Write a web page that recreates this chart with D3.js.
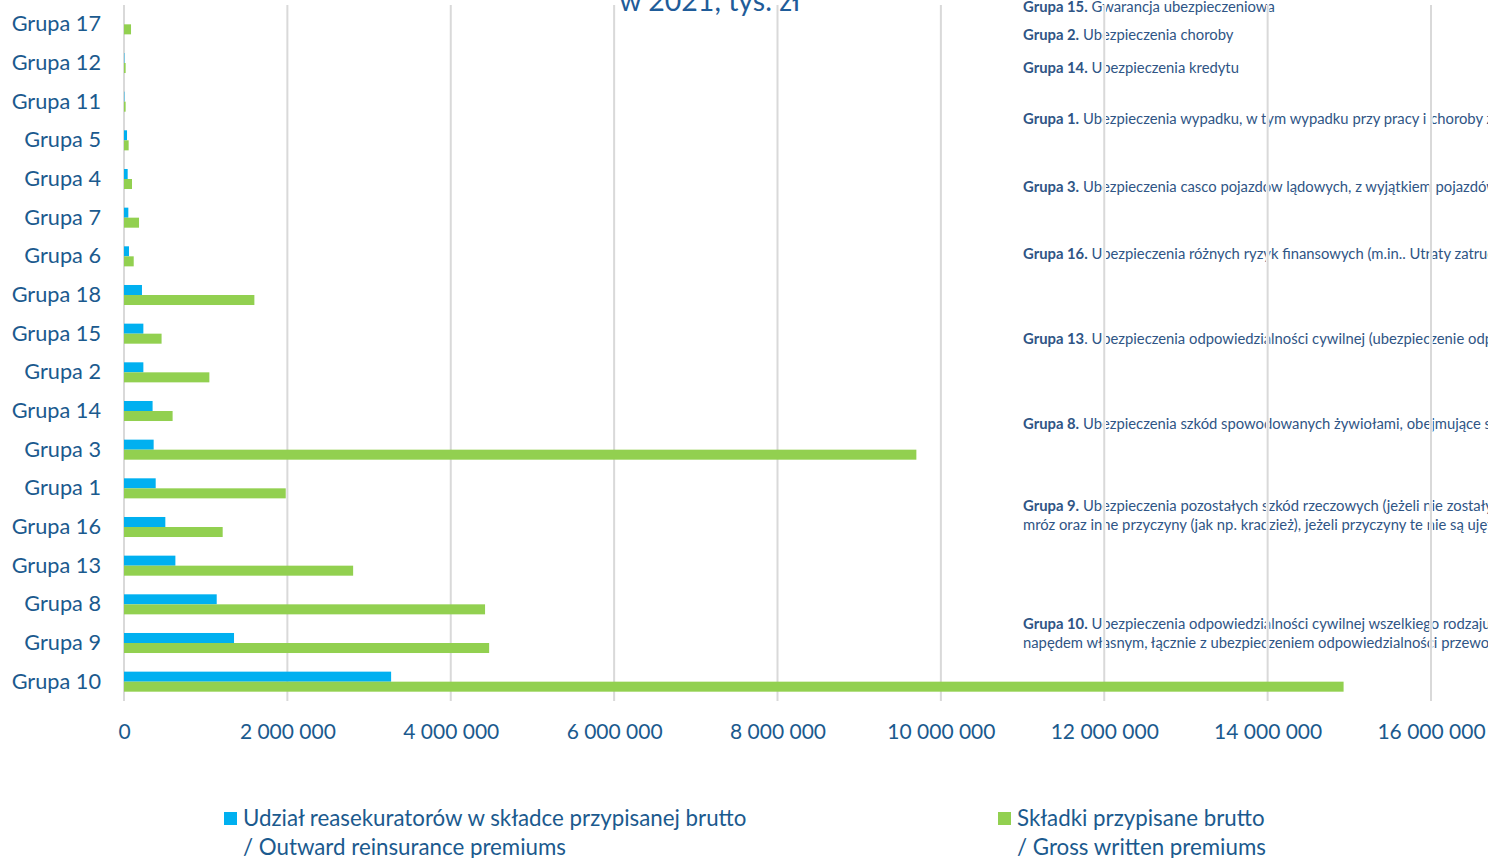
<!DOCTYPE html>
<html>
<head>
<meta charset="utf-8">
<script src="https://cdn.jsdelivr.net/npm/d3@7"></script>
<style>
    html, body { margin: 0; padding: 0; background: #fff; }
    svg { display: block; font-family: Lato, sans-serif; }
</style>
</head>
<body>
<div id="chart"></div>
<script>
// categories, top to bottom
const groups = ['Grupa 17', 'Grupa 12', 'Grupa 11', 'Grupa 5', 'Grupa 4', 'Grupa 7', 'Grupa 6', 'Grupa 18', 'Grupa 15',
    'Grupa 2', 'Grupa 14', 'Grupa 3', 'Grupa 1', 'Grupa 16', 'Grupa 13', 'Grupa 8', 'Grupa 9', 'Grupa 10'];

// thousand PLN
const outwardReinsurance = [0, 5000, 5000, 37000, 45000, 53000, 61000, 220000, 237000,
    237000, 350000, 363000, 388000, 506000, 629000, 1135000, 1347000, 3270000];
const grossWritten = [86000, 20000, 20000, 57000, 98000, 184000, 119000, 1596000, 460000,
    1045000, 595000, 9700000, 1980000, 1208000, 2805000, 4420000, 4470000, 14930000];

const xTicks = [0, 2000000, 4000000, 6000000, 8000000, 10000000, 12000000, 14000000, 16000000];

const seriesNames = [
    ['Udział reasekuratorów w składce przypisanej brutto', '/ Outward reinsurance premiums'],
    ['Składki przypisane brutto', '/ Gross written premiums']
];

const titleText = 'w 2021, tys. zł';

// notes: bold head, rest of line(s)
const notes = [
    ['Grupa 15.', ' Gwarancja ubezpieczeniowa'],
    ['Grupa 2.', ' Ubezpieczenia choroby'],
    ['Grupa 14.', ' Ubezpieczenia kredytu'],
    ['Grupa 1.', ' Ubezpieczenia wypadku, w tym wypadku przy pracy i choroby zawodowej'],
    ['Grupa 3.', ' Ubezpieczenia casco pojazdów lądowych, z wyjątkiem pojazdów szynowych'],
    ['Grupa 16.', ' Ubezpieczenia różnych ryzyk finansowych (m.in.. Utraty zatrudnienia, niewystarczającego dochodu)'],
    ['Grupa 13', '. Ubezpieczenia odpowiedzialności cywilnej (ubezpieczenie odpowiedzialności ogólnej)'],
    ['Grupa 8.', ' Ubezpieczenia szkód spowodowanych żywiołami, obejmujące szkody w mieniu'],
    ['Grupa 9.', ' Ubezpieczenia pozostałych szkód rzeczowych (jeżeli nie zostały ujęte w grupach 3-7), spowodowanych przez grad lub',
        'mróz oraz inne przyczyny (jak np. kradzież), jeżeli przyczyny te nie są ujęte w grupie 8'],
    ['Grupa 10.', ' Ubezpieczenia odpowiedzialności cywilnej wszelkiego rodzaju, wynikającej z posiadania i użytkowania pojazdów lądowych z',
        'napędem własnym, łącznie z ubezpieczeniem odpowiedzialności przewoźnika']
];
const noteBaselines = [12, 40, 73, 124, 192, 259, 344, 429, 511, 629];

const width = 1488;
const height = 858;
const colors = ['#00B0F0', '#92D050'];
const textColor = '#1B5A8E';
const gridColor = '#D9D9D9';

const svg = d3.select('#chart')
    .append('svg')
    .attr('width', width)
    .attr('height', height);

const xScale = d3.scaleLinear()
    .domain([0, 16000000])
    .range([124, 1431]);

const yScale = d3.scaleBand()
    .domain(groups)
    .range([5, 701]);

const subScale = d3.scaleBand()
    .domain([0, 1])
    .range([0, yScale.bandwidth()])
    .paddingInner(0)
    .paddingOuter(0.93);

// title (only last line visible)
svg.append('text')
    .attr('x', 710)
    .attr('y', 11)
    .attr('text-anchor', 'middle')
    .attr('font-size', 28.5)
    .attr('fill', '#1F5C99')
    .text(titleText);

// notes on the right
const noteG = svg.append('g')
    .attr('font-size', 14.8)
    .attr('fill', '#2F5585');

notes.forEach((n, i) => {
    const t = noteG.append('text')
        .attr('x', 1023)
        .attr('y', noteBaselines[i]);
    t.append('tspan').attr('font-weight', 'bold').text(n[0]);
    t.append('tspan').text(n[1]);
    if (n[2]) {
        noteG.append('text')
            .attr('x', 1023)
            .attr('y', noteBaselines[i] + 19)
            .text(n[2]);
    }
});

// grid lines
const grid = svg.append('g');
grid.selectAll('.halo')
    .data(xTicks)
    .enter()
    .append('line')
    .attr('x1', d => xScale(d))
    .attr('x2', d => xScale(d))
    .attr('y1', 5)
    .attr('y2', 701)
    .attr('stroke', '#fff')
    .attr('stroke-width', 3.5);
grid.selectAll('.grid')
    .data(xTicks)
    .enter()
    .append('line')
    .attr('x1', d => xScale(d))
    .attr('x2', d => xScale(d))
    .attr('y1', 5)
    .attr('y2', 701)
    .attr('stroke', gridColor)
    .attr('stroke-width', 2);

// bars
const series = [outwardReinsurance, grossWritten];
series.forEach((values, s) => {
    svg.append('g')
        .selectAll('rect')
        .data(groups)
        .enter()
        .append('rect')
        .attr('x', xScale(0))
        .attr('y', d => yScale(d) + subScale(s))
        .attr('width', (d, i) => xScale(values[i]) - xScale(0))
        .attr('height', subScale.bandwidth())
        .attr('fill', colors[s]);
});

// y axis labels
const yAxis = d3.axisLeft(yScale).tickSize(0).tickPadding(0);
svg.append('g')
    .attr('transform', 'translate(101, 0)')
    .call(yAxis)
    .call(g => g.select('.domain').remove())
    .selectAll('text')
    .attr('font-family', 'Lato, sans-serif')
    .attr('font-size', 21.7)
    .attr('fill', textColor);

// x axis labels
const xAxis = d3.axisBottom(xScale)
    .tickValues(xTicks)
    .tickSize(0)
    .tickPadding(0)
    .tickFormat(d => d3.format(',')(d).replace(/,/g, ' '));
svg.append('g')
    .attr('transform', 'translate(0, 724)')
    .call(xAxis)
    .call(g => g.select('.domain').remove())
    .selectAll('text')
    .attr('font-family', 'Lato, sans-serif')
    .attr('font-size', 21)
    .attr('fill', textColor);

// legend
const legendX = [224, 998];
seriesNames.forEach((lines, s) => {
    const lg = svg.append('g')
        .attr('transform', `translate(${legendX[s]}, 0)`);
    lg.append('rect')
        .attr('x', 0)
        .attr('y', 812)
        .attr('width', 13)
        .attr('height', 13)
        .attr('fill', colors[s]);
    lines.forEach((line, j) => {
        lg.append('text')
            .attr('x', 19)
            .attr('y', 826 + j * 29)
            .attr('font-size', 22.3)
            .attr('fill', textColor)
            .text(line);
    });
});
</script>
</body>
</html>
